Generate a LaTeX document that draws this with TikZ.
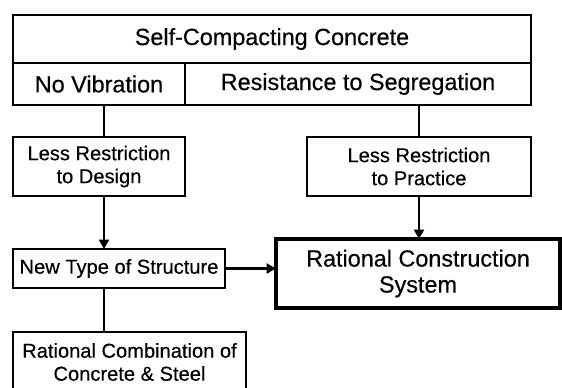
\documentclass[tikz,border=0pt]{standalone}
\usepackage{fontspec}
\setmainfont{Liberation Sans}[FakeBold=0.4]
\usetikzlibrary{arrows.meta}
\begin{document}
\begin{tikzpicture}[x=1pt,y=-1pt,
  box/.style={draw, line width=2.4pt, inner sep=0pt, outer sep=0pt, align=center},
  thickbox/.style={box, line width=4.6pt},
  big/.style={font=\fontsize{23.4}{26}\selectfont},
  small/.style={font=\fontsize{20.1}{23}\selectfont},
  conn/.style={line width=2.4pt},
  arr/.style={conn, -{Triangle[length=9.5pt,width=10pt]}}]
\useasboundingbox (0,0) rectangle (562,388);
\clip (0,0) rectangle (562,388);
\node[box,big,minimum width=518pt,minimum height=48pt] (top) at (272,39) {Self-Compacting Concrete};
\node[box,big,minimum width=172pt,minimum height=42pt] (nv) at (99,84) {No Vibration};
\node[box,big,minimum width=346pt,minimum height=42pt] (rs) at (358,84) {Resistance to Segregation};
\node[box,small,minimum width=172pt,minimum height=59pt] (ld) at (99,166.5) {Less Restriction\\to Design};
\node[box,small,minimum width=224pt,minimum height=59pt] (lp) at (419,166.5) {Less Restriction\\to Practice};
\node[box,small,minimum width=212pt,minimum height=39pt] (nt) at (119,268.5) {New Type of Structure};
\node[thickbox,big,minimum width=284pt,minimum height=69pt] (rcs) at (418,273.5) {Rational Construction\\System};
\node[box,small,minimum width=233pt,minimum height=60pt] (rc) at (129.5,362) {Rational Combination of\\Concrete \& Steel};
\coordinate (lx) at (104,0);
\draw[conn] (nv.south -| lx) -- (ld.north -| lx);
\draw[conn] (rs.south -| lp.north) -- (lp.north);
\draw[arr] (ld.south -| lx) -- (nt.north -| lx);
\draw[arr] (lp.south) -- (lp.south |- rcs.north);
\draw[arr] (nt.east) -- (nt.east -| rcs.west);
\draw[conn] (nt.south -| lx) -- (rc.north -| lx);
\end{tikzpicture}
\end{document}
